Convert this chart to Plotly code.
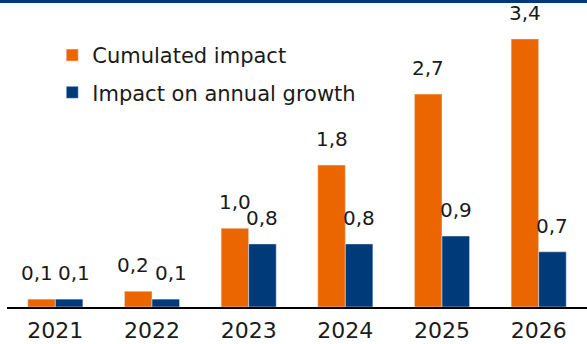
import plotly.graph_objects as go

years = ["2021", "2022", "2023", "2024", "2025", "2026"]
cumulated = [0.1, 0.2, 1.0, 1.8, 2.7, 3.4]
annual = [0.1, 0.1, 0.8, 0.8, 0.9, 0.7]
series_names = ["Cumulated impact", "Impact on annual growth"]

ORANGE = "#EC6600"
BLUE = "#003A78"
TEXT = "#1a1a1a"
FONT = "DejaVu Sans"

W, H = 587, 344
M_L, M_R, M_T, M_B = 7, 0, 20, 37
BARGAP = 0.43


def fmt(v):
    return f"{v:.1f}".replace(".", ",")


fig = go.Figure()
fig.add_bar(x=years, y=cumulated, name=series_names[0],
            marker_color=ORANGE, legendgroup="a")
fig.add_bar(x=years, y=annual, name=series_names[1],
            marker_color=BLUE, legendgroup="b")

# value labels sit above each bar, offset to the bar's slot within its group;
# when a pair of labels would sit at nearly the same height they are
# nudged apart so they do not run into each other
cat_px = (W - M_L - M_R) / len(years)
half_bar = (1 - BARGAP) * cat_px / 4
annotations = []
for i, (c, a) in enumerate(zip(cumulated, annual)):
    nudge = 5 if abs(c - a) < 0.15 else 0
    for v, shift in ((c, -half_bar - nudge), (a, half_bar + nudge)):
        annotations.append(dict(
            x=i, y=v, xref="x", yref="y", text=fmt(v), showarrow=False,
            xshift=shift, yshift=12, yanchor="bottom", xanchor="center",
            font=dict(family=FONT, size=20, color=TEXT)))

plot_h = H - M_T - M_B
fig.update_layout(
    width=W, height=H,
    margin=dict(l=M_L, r=M_R, t=M_T, b=M_B, pad=0),
    paper_bgcolor="white", plot_bgcolor="white",
    barmode="group", bargap=BARGAP, bargroupgap=0,
    font=dict(family=FONT, color=TEXT),
    showlegend=True,
    legend=dict(x=0.078, y=0.948, xanchor="left", yanchor="top",
                font=dict(family=FONT, size=21, color=TEXT),
                bgcolor="rgba(0,0,0,0)", tracegroupgap=7,
                traceorder="grouped"),
    annotations=annotations,
    shapes=[dict(type="line", xref="paper", yref="paper",
                 x0=-M_L / (W - M_L - M_R), x1=1,
                 y0=1 + (M_T - 1.5) / plot_h, y1=1 + (M_T - 1.5) / plot_h,
                 line=dict(color=BLUE, width=3))],
    xaxis=dict(type="category", range=[-0.5, len(years) - 0.5],
               showline=True, linecolor="black",
               linewidth=2, showgrid=False, ticks="", automargin=False,
               ticklabelstandoff=3,
               tickfont=dict(family=FONT, size=22, color=TEXT)),
    yaxis=dict(range=[0, 3.64], visible=False, showgrid=False,
               zeroline=False, automargin=False),
)

fig.write_html("out.html")
